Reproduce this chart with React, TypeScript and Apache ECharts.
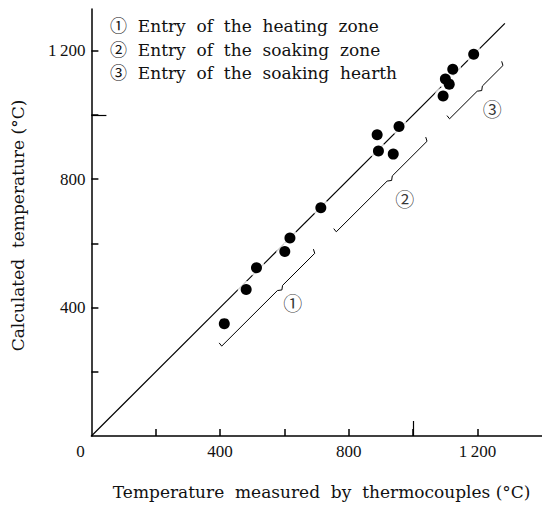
import React, { useEffect, useRef } from 'react';
import * as echarts from 'echarts';

// Measured (thermocouples) vs calculated temperature, °C
const measured = [413, 481, 513, 601, 617, 713, 888, 892, 938, 956, 1093, 1100, 1112, 1123, 1188];
const calculated = [350, 456, 524, 575, 617, 711, 938, 888, 878, 964, 1059, 1112, 1096, 1142, 1189];

// y = x reference line extent
const identityLine = [0, 1285];

// axis ticks and labels
const xTickValues = [200, 400, 600, 800, 1000, 1200];
const yTickValues = [200, 400, 600, 800, 1000, 1200];
const xLabelValues = [0, 400, 800, 1200];
const yLabelValues = [400, 800, 1200];
const longTickValues = [1000];

// zones (braces under the y = x line)
const zoneMarks = ['①', '②', '③'];
const zoneNames = ['Entry  of  the  heating  zone', 'Entry  of  the  soaking  zone', 'Entry  of  the  soaking  hearth'];
const zoneStart = [405, 761, 1113];
const zoneEnd = [694, 1043, 1279];
const zoneNotch = [586, 927, 1207];
const zoneLabelX = [626, 974, 1246];
const zoneLabelY = [416, 741, 1021];

const SERIF = "'DejaVu Serif', 'Liberation Serif', serif";
const TICK_FONT = "'Liberation Serif', 'DejaVu Serif', serif";
const MARK_FONT = "'DejaVu Serif', 'Noto Sans CJK JP', 'DejaVu Sans', serif";

const fmt = (v: number) =>
  v >= 1000 ? `${Math.floor(v / 1000)}\u2009${String(v % 1000).padStart(3, '0')}` : String(v);

export default function App() {
  const ref = useRef<HTMLDivElement>(null);
  useEffect(() => {
    document.body.style.margin = '0';
    const chart = echarts.init(ref.current!, null, { renderer: 'svg' });

    const OFF = 125;
    const H = 10;
    const braceSeries = zoneStart.map((s, i) => {
      const e = zoneEnd[i];
      const n = zoneNotch[i];
      const pts = [
        [s - H * 0.8, s - OFF + H],
        [s, s - OFF],
        [n - 8, n - 8 - OFF],
        [n + 6, n - OFF - 6],
        [n + 8, n + 8 - OFF],
        [e, e - OFF],
        [e - H * 0.4, e - OFF + H * 1.3],
      ];
      return {
        type: 'line',
        data: pts,
        symbol: 'none',
        silent: true,
        z: 1,
        lineStyle: { color: '#000', width: 1 },
      };
    });

    const axisLine = { show: true, lineStyle: { color: '#000', width: 1.5 } };
    const tickStyle = { color: '#000', width: 1.5 };
    const labelStyle = { color: '#111', fontFamily: TICK_FONT, fontSize: 17 };
    const nameStyle = { color: '#111', fontFamily: SERIF, fontSize: 17 };

    const option: any = {
      animation: false,
      backgroundColor: '#fff',
      grid: { left: 91.4, top: 9, width: 450.5, height: 428, containLabel: false },
      xAxis: [
        {
          type: 'value',
          min: 0,
          max: 1400,
          interval: 200,
          position: 'bottom',
          axisLine,
          axisTick: { show: true, inside: true, length: 7, lineStyle: tickStyle, customValues: xTickValues },
          axisLabel: {
            ...labelStyle,
            margin: 7,
            customValues: xLabelValues,
            formatter: (v: number) => (v === 0 ? '{o|0}' : fmt(v)),
            rich: { o: { ...labelStyle, padding: [0, 22, 0, 0] } },
          },
          splitLine: { show: false },
          name: 'Temperature  measured  by  thermocouples (°C)',
          nameLocation: 'middle',
          nameGap: 47,
          nameTextStyle: { ...nameStyle, padding: [0, 0, 0, 10] },
        },
        {
          type: 'value',
          min: 0,
          max: 1400,
          interval: 200,
          position: 'bottom',
          axisLine: { show: false },
          axisTick: { show: true, inside: true, length: 15, lineStyle: { color: '#000', width: 1.2 }, customValues: longTickValues },
          axisLabel: { show: false },
          splitLine: { show: false },
        },
      ],
      yAxis: [
        {
          type: 'value',
          min: 0,
          max: 1330,
          interval: 200,
          position: 'left',
          axisLine,
          axisTick: { show: true, inside: true, length: 7, lineStyle: tickStyle, customValues: yTickValues },
          axisLabel: { ...labelStyle, margin: 6, customValues: yLabelValues, formatter: (v: number) => fmt(v) },
          splitLine: { show: false },
          name: 'Calculated  temperature (°C)',
          nameLocation: 'middle',
          nameGap: 65,
          nameTextStyle: { ...nameStyle, padding: [0, 6, 0, 0] },
        },
        {
          type: 'value',
          min: 0,
          max: 1330,
          interval: 200,
          position: 'left',
          axisLine: { show: false },
          axisTick: { show: true, inside: true, length: 15, lineStyle: { color: '#000', width: 1.2 }, customValues: longTickValues },
          axisLabel: { show: false },
          splitLine: { show: false },
        },
      ],
      graphic: zoneNames.map((name, i) => ({
        type: 'text',
        left: 110,
        top: 17.5 + i * 23.5,
        silent: true,
        style: { text: `${zoneMarks[i]}  ${name}`, fill: '#111', font: `17px ${MARK_FONT}` },
      })),
      series: [
        {
          type: 'line',
          data: identityLine.map((v) => [v, v]),
          symbol: 'none',
          silent: true,
          z: 1,
          lineStyle: { color: '#000', width: 1.2 },
        },
        ...braceSeries,
        {
          type: 'scatter',
          data: measured.map((x, i) => [x, calculated[i]]),
          symbolSize: 17,
          silent: true,
          z: 2,
          itemStyle: { color: '#fff' },
        },
        {
          type: 'scatter',
          data: measured.map((x, i) => [x, calculated[i]]),
          symbolSize: 11,
          silent: true,
          z: 3,
          itemStyle: { color: '#000', opacity: 1 },
        },
        {
          type: 'scatter',
          data: zoneLabelX.map((x, i) => [x, zoneLabelY[i]]),
          symbolSize: 1,
          silent: true,
          z: 4,
          itemStyle: { color: 'transparent' },
          label: {
            show: true,
            position: 'inside',
            formatter: (p: any) => zoneMarks[p.dataIndex],
            color: '#000',
            fontFamily: "'Noto Sans CJK JP', 'DejaVu Sans', sans-serif",
            fontSize: 19,
          },
        },
      ],
    };

    chart.setOption(option);
    return () => chart.dispose();
  }, []);
  return <div ref={ref} style={{ width: 542, height: 505 }} />;
}
